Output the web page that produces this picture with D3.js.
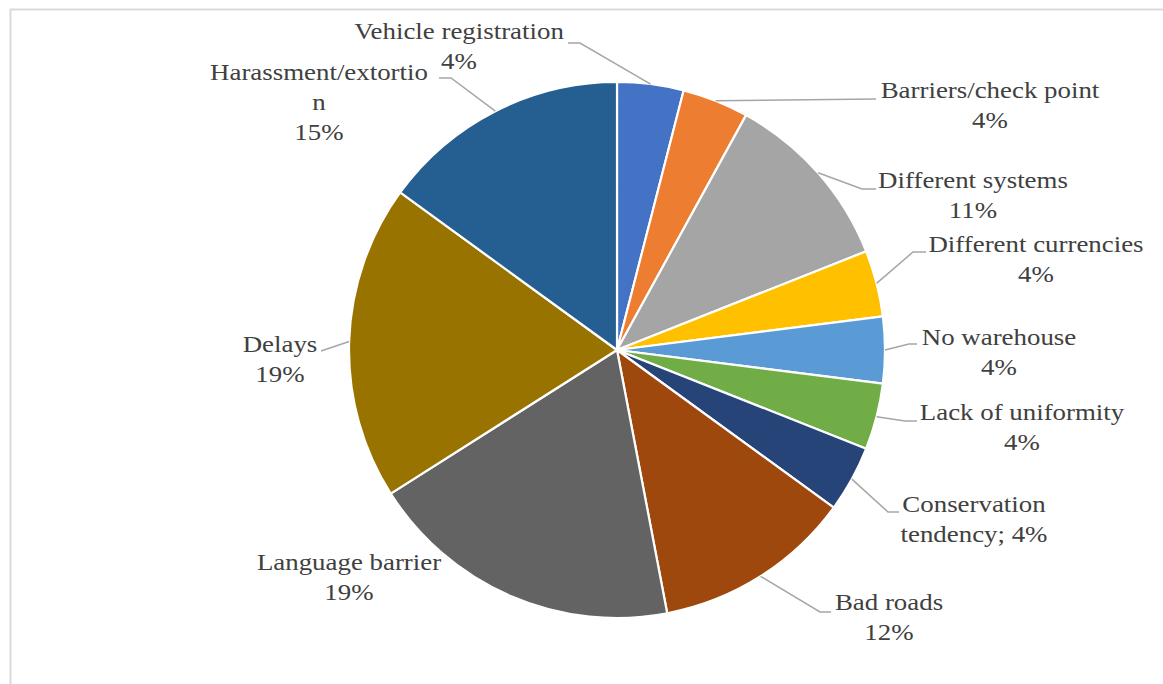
<!DOCTYPE html>
<html>
<head>
<meta charset="utf-8">
<script src="https://cdn.jsdelivr.net/npm/d3@7/dist/d3.min.js"></script>
<style>
  html, body { margin: 0; padding: 0; background: #ffffff; }
  svg { display: block; }
</style>
</head>
<body>
<svg id="chart" width="1163" height="684"></svg>
<script>
// Obstacles to cross-border trade (share of responses, %)
const categories = [
  "Vehicle registration", "Barriers/check point", "Different systems",
  "Different currencies", "No warehouse", "Lack of uniformity",
  "Conservation tendency", "Bad roads", "Language barrier", "Delays",
  "Harassment/extortion"
];
const values = [4, 4, 11, 4, 4, 4, 4, 12, 19, 19, 15];
const colors = [
  "#4472C4", "#ED7D31", "#A5A5A5", "#FFC000", "#5B9BD5", "#70AD47",
  "#264478", "#9E480E", "#636363", "#997300", "#255E91"
];
// How each category name wraps inside its data label
const nameLines = [
  ["Vehicle registration"], ["Barriers/check point"], ["Different systems"],
  ["Different currencies"], ["No warehouse"], ["Lack of uniformity"],
  ["Conservation", "tendency"], ["Bad roads"], ["Language barrier"], ["Delays"],
  ["Harassment/extortio", "n"]
];
// Labels whose value sits on the name's last line, after a separator
const inlineValueSep = { 6: "; " };

// ---- layout ----
const W = 1163, H = 684;
const cx = 617, cy = 350, R = 268;
const lineGap = 30;
const labelFont = "'Liberation Serif', 'Times New Roman', serif";
const labelStretch = 1.12;
// label anchor (centre x, first baseline y) and leader-line path toward the label
const labelLayout = [
  { x: 459, y: 39,  leader: [[580, 43], [568, 43]] },
  { x: 990, y: 98,  leader: [[876, 99]] },
  { x: 973, y: 188, leader: [[862, 189], [876, 189]] },
  { x: 1036, y: 252, leader: [[913, 252], [926, 252]] },
  { x: 999, y: 345, leader: [[909, 344], [917, 344]] },
  { x: 1022, y: 420, leader: [[905, 421], [917, 421]] },
  { x: 974, y: 512, leader: [[888, 512], [899, 512]] },
  { x: 889, y: 610, leader: [[820, 612], [831, 612]] },
  { x: 349, y: 570, leader: null },
  { x: 280, y: 352, leader: [[321, 351]] },
  { x: 319, y: 80,  leader: [[451, 78], [439, 78]] }
];

const svg = d3.select("#chart");

// chart area frame
svg.append("rect")
  .attr("x", 10.5).attr("y", 9.5)
  .attr("width", W + 20).attr("height", H + 20)
  .attr("fill", "#ffffff")
  .attr("stroke", "#d9d9d9").attr("stroke-width", 2);

const pie = d3.pie().sort(null).value(d => d)
  .startAngle(0).endAngle(2 * Math.PI);
const arcs = pie(values);
const arc = d3.arc().innerRadius(0).outerRadius(R);

const g = svg.append("g").attr("transform", `translate(${cx},${cy})`);

g.selectAll("path.slice")
  .data(arcs)
  .join("path")
  .attr("class", "slice")
  .attr("d", arc)
  .attr("fill", (d, i) => colors[i])
  .attr("stroke", "#ffffff")
  .attr("stroke-width", 2.2)
  .attr("stroke-linejoin", "round");

// leader lines: from the slice's outer-edge midpoint to the label
const edgePoint = d => {
  const a = (d.startAngle + d.endAngle) / 2;
  return [cx + R * Math.sin(a), cy - R * Math.cos(a)];
};
const lineGen = d3.line();
arcs.forEach((d, i) => {
  const L = labelLayout[i];
  if (!L.leader) return;
  svg.append("path")
    .attr("d", lineGen([edgePoint(d), ...L.leader]))
    .attr("fill", "none")
    .attr("stroke", "#a6a6a6")
    .attr("stroke-width", 1.5);
});

// data labels
arcs.forEach((d, i) => {
  const L = labelLayout[i];
  const pct = `${values[i]}%`;
  const lines = nameLines[i].slice();
  if (inlineValueSep[i] !== undefined) {
    lines[lines.length - 1] += inlineValueSep[i] + pct;
  } else {
    lines.push(pct);
  }
  const t = svg.append("text")
    .attr("transform", `translate(${L.x},0) scale(${labelStretch},1)`)
    .attr("text-anchor", "middle")
    .style("font-family", labelFont)
    .style("font-size", "24px")
    .attr("fill", "#404040");
  lines.forEach((s, k) => {
    t.append("tspan")
      .attr("x", 0)
      .attr("y", L.y + k * lineGap)
      .text(s);
  });
});
</script>
</body>
</html>
